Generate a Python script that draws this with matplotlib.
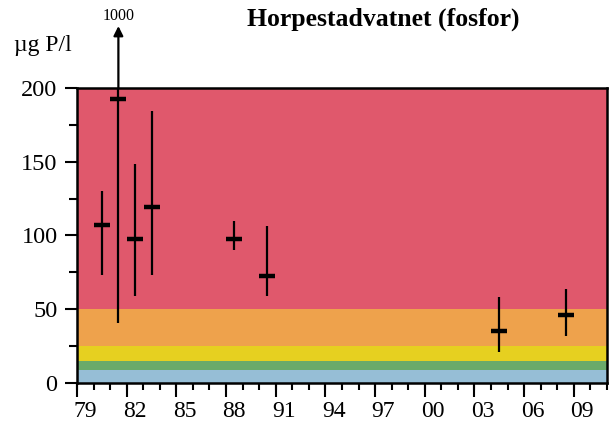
import numpy as np
import matplotlib.pyplot as plt

plt.rcParams['font.family'] = ['Liberation Serif', 'DejaVu Serif']

# measured values (µg P/l)
years = [1980, 1981, 1982, 1983, 1988, 1990, 2004, 2008]
mean = [107, 192.5, 97.5, 119.5, 97.5, 72.5, 35, 46]
low = [73, 41, 59, 73, 90, 59, 21, 32]
high = [130, 1000, 148.5, 184.5, 109.5, 106.5, 58, 64]

# class limits for the coloured background
class_limits = [0, 9, 15, 25, 50, 200]
class_colors = ['#96BED6', '#6AAA6A', '#E6D020', '#EEA24C', '#E0586C']

label_years = list(range(1979, 2010, 3))
labels = ['%02d' % (y % 100) for y in label_years]

fig = plt.figure(figsize=(6.09, 4.33), dpi=100)
ax = fig.add_axes([0.1264, 0.1155, 0.8703, 0.6813])

for lo, hi, c in zip(class_limits[:-1], class_limits[1:], class_colors):
    ax.axhspan(lo, hi, color=c, lw=0, zorder=0)

ymax = 200
ax.vlines(years, low, np.minimum(high, ymax), color='black', lw=1.6, zorder=3)
ax.plot(years, mean, ls='none', marker='_', ms=12, mew=3.2, color='black', zorder=4)

for x, h in zip(years, high):
    if h > ymax:
        ax.annotate('', xy=(x, 1.21), xycoords=('data', 'axes fraction'),
                    xytext=(x, ymax), textcoords='data',
                    arrowprops=dict(arrowstyle='-|>', color='black', lw=1.6,
                                    mutation_scale=14, shrinkA=0, shrinkB=0),
                    annotation_clip=False)
        ax.text(x, 1.245, str(h), transform=ax.get_xaxis_transform(),
                ha='center', va='center', fontsize=11.5)

ax.set_xlim(1978.5, 2010.5)
ax.set_ylim(0, 200)

# x axis: labels centred on years, ticks between years
ax.set_xticks(label_years, labels)
ax.set_xticks(np.arange(1978.5, 2011, 1), minor=True)
ax.tick_params(axis='x', which='major', length=0, pad=13, labelsize=17)
ax.tick_params(axis='x', which='minor', length=5, width=1.5, direction='out')
sec = ax.secondary_xaxis('bottom')
sec.set_xticks(np.arange(1978.5, 2011, 3))
sec.tick_params(length=10, width=1.5, labelbottom=False)
sec.spines['bottom'].set_visible(False)

ax.set_yticks(np.arange(0, 201, 50))
ax.set_yticks(np.arange(0, 201, 25), minor=True)
ax.tick_params(axis='y', which='major', length=9, width=1.5, labelsize=17.5, pad=5)
ax.tick_params(axis='y', which='minor', length=6, width=1.5)

for s in ax.spines.values():
    s.set_linewidth(1.8)

fig.text(0.630, 0.955, 'Horpestadvatnet (fosfor)', ha='center', va='center',
         fontsize=18.5, fontweight='bold')
fig.text(0.023, 0.895, 'µg P/l', ha='left', va='center', fontsize=17)

fig.savefig('out.png', dpi=100)
